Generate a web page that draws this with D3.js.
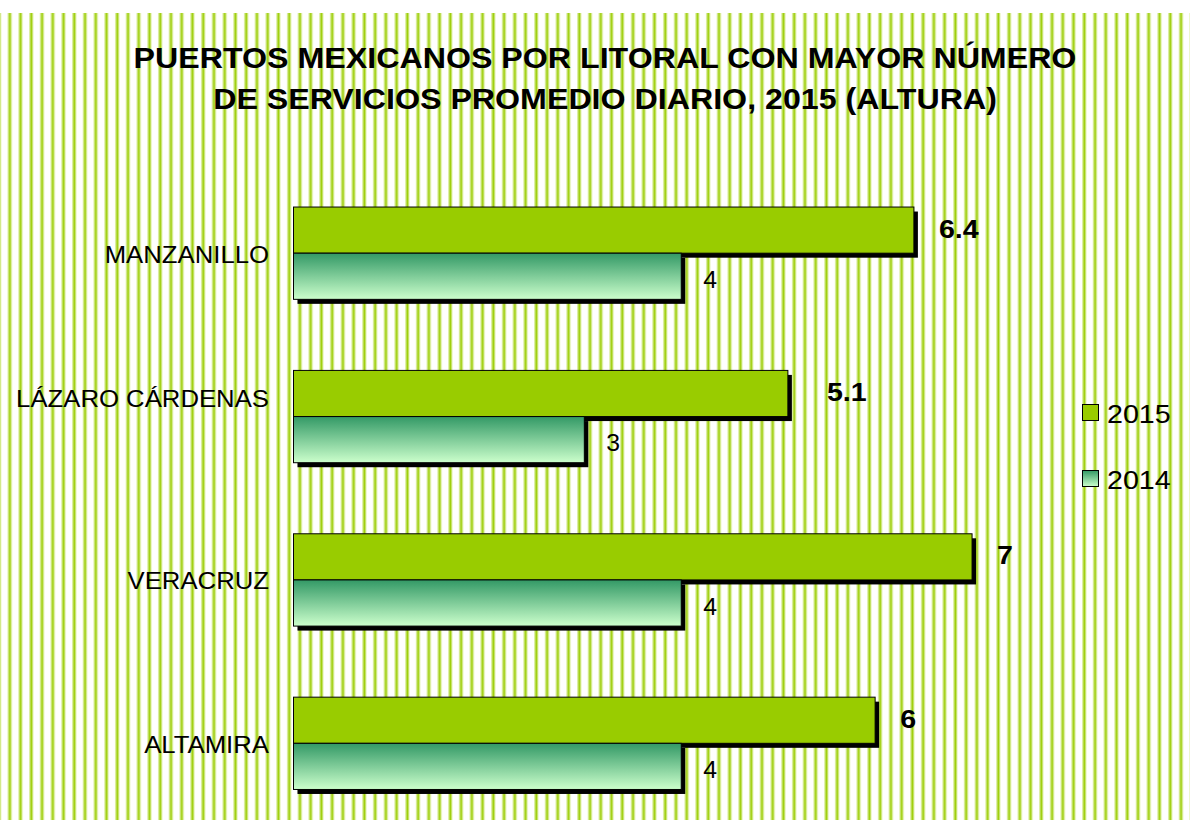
<!DOCTYPE html>
<html>
<head>
<meta charset="utf-8">
<script src="https://cdn.jsdelivr.net/npm/d3@7"></script>
<style>
  body { margin: 0; background: #fff; }
  svg { display: block; font-family: Arial, 'Liberation Sans', sans-serif; }
</style>
</head>
<body>
<div id="chart"></div>
<script>
// data
var ports = ['MANZANILLO', 'LÁZARO CÁRDENAS', 'VERACRUZ', 'ALTAMIRA']
var years = ['2015', '2014']
var values2015 = [6.4, 5.1, 7, 6]
var values2014 = [4, 3, 4, 4]
var titleLines = ['PUERTOS MEXICANOS POR LITORAL CON MAYOR NÚMERO',
                  'DE SERVICIOS PROMEDIO DIARIO, 2015 (ALTURA)']

var width = 1190, height = 820

var svg = d3.select('#chart').append('svg')
    .attr('width', width)
    .attr('height', height)

var defs = svg.append('defs')

// striped background (vertical lines)
var stripe = defs.append('linearGradient')
    .attr('id', 'stripeGrad')
    .attr('x1', 0).attr('x2', 1).attr('y1', 0).attr('y2', 0)
stripe.append('stop').attr('offset', '0%').attr('stop-color', '#f0f8d2')
stripe.append('stop').attr('offset', '50%').attr('stop-color', '#99cc00')
stripe.append('stop').attr('offset', '100%').attr('stop-color', '#f0f8d2')

var pattern = defs.append('pattern')
    .attr('id', 'stripes')
    .attr('patternUnits', 'userSpaceOnUse')
    .attr('x', 7.5).attr('y', 0)
    .attr('width', 10.745).attr('height', 20)
pattern.append('rect')
    .attr('width', 10.745).attr('height', 20)
    .attr('fill', '#fff')
pattern.append('rect')
    .attr('x', 0).attr('width', 4.6).attr('height', 20)
    .attr('fill', 'url(#stripeGrad)')

// gradient for 2014 bars
var grad = defs.append('linearGradient')
    .attr('id', 'grad2014')
    .attr('x1', 0).attr('x2', 0).attr('y1', 0).attr('y2', 1)
grad.append('stop').attr('offset', '0%').attr('stop-color', '#339966')
grad.append('stop').attr('offset', '100%').attr('stop-color', '#ccffcc')

var colors = { '2015': '#99cc00', '2014': 'url(#grad2014)' }

svg.append('rect')
    .attr('x', 0).attr('y', 13)
    .attr('width', width).attr('height', height - 13)
    .attr('fill', 'url(#stripes)')

// scales
var xScale = d3.scaleLinear()
    .domain([0, 8])
    .range([293.5, 1069])

var yScale = d3.scaleBand()
    .domain(ports)
    .range([171.5, 825])
    .paddingInner(0.435)
    .paddingOuter(0.2175)

var ySub = d3.scaleBand()
    .domain(years)
    .range([0, yScale.bandwidth()])

var rows = []
ports.forEach(function (p, i) {
  rows.push({ port: p, year: '2015', value: values2015[i] })
  rows.push({ port: p, year: '2014', value: values2014[i] })
})

function barY(d) { return yScale(d.port) + ySub(d.year) }

// shadows first, then bars on top
svg.append('g').selectAll('rect')
    .data(rows)
    .enter().append('rect')
    .attr('x', xScale(0) + 4)
    .attr('y', function (d) { return barY(d) + 4.5 })
    .attr('width', function (d) { return xScale(d.value) - xScale(0) })
    .attr('height', ySub.bandwidth())
    .attr('fill', '#000')

svg.append('g').selectAll('rect')
    .data(rows)
    .enter().append('rect')
    .attr('x', xScale(0))
    .attr('y', barY)
    .attr('width', function (d) { return xScale(d.value) - xScale(0) })
    .attr('height', ySub.bandwidth())
    .attr('fill', function (d) { return colors[d.year] })
    .attr('stroke', '#000')
    .attr('stroke-width', 1)

// value labels (the 5.1 label was nudged right in the original)
var valueShift = { 'LÁZARO CÁRDENAS2015': 14 }
svg.append('g').selectAll('text')
    .data(rows)
    .enter().append('text')
    .attr('transform', function (d) {
      var x = xScale(d.value) + (d.year == '2015' ? 25 : 22) + (valueShift[d.port + d.year] || 0)
      var y = barY(d) + ySub.bandwidth() / 2 + (d.year == '2015' ? 7.5 : 11.5)
      return 'translate(' + x + ',' + y + ') scale(1.08,1)'
    })
    .style('font-size', function (d) { return d.year == '2015' ? '26.5px' : '23px' })
    .style('font-weight', function (d) { return d.year == '2015' ? 'bold' : 'normal' })
    .text(function (d) { return d.value })

// category labels (Lázaro sits a little higher in the original)
var labelShift = { 'LÁZARO CÁRDENAS': -19.5 }
svg.append('g').selectAll('text')
    .data(ports)
    .enter().append('text')
    .attr('transform', function (d) {
      var y = yScale(d) + yScale.bandwidth() / 2 + 9.5 + (labelShift[d] || 0)
      return 'translate(269,' + y + ') scale(1.05,1)'
    })
    .attr('text-anchor', 'end')
    .style('font-size', '24.5px')
    .text(function (d) { return d })

// title
svg.append('g').selectAll('text')
    .data(titleLines)
    .enter().append('text')
    .attr('transform', function (d, i) { return 'translate(605,' + (68 + i * 41) + ') scale(1.11,1)' })
    .attr('text-anchor', 'middle')
    .style('font-size', '29px')
    .style('font-weight', 'bold')
    .text(function (d) { return d })

// legend
var legend = svg.append('g').selectAll('g')
    .data(years)
    .enter().append('g')
    .attr('transform', function (d, i) { return 'translate(1082,' + (404 + i * 66) + ')' })

legend.append('rect')
    .attr('x', 0.5).attr('y', 0.5)
    .attr('width', 16).attr('height', 16)
    .attr('fill', function (d) { return colors[d] })
    .attr('stroke', '#000')

legend.append('text')
    .attr('transform', 'translate(25,18.5) scale(1.08,1)')
    .style('font-size', '26.5px')
    .text(function (d) { return d })
</script>
</body>
</html>
